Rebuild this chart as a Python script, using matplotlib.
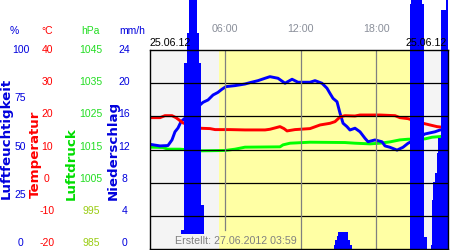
import matplotlib
matplotlib.use('Agg')
from matplotlib import pyplot as plt

W, H = 450, 250

# time in hours since 00:00 of the first day
hum_h = [0.0, 0.80, 1.43, 1.75, 1.99, 2.23, 2.47, 4.22, 4.62, 5.02, 5.41, 5.73, 6.05, 6.77,
         7.56, 7.96, 8.60, 9.16, 9.55, 10.19, 10.75, 11.31, 11.78, 12.74, 13.14, 13.69, 14.09,
         14.33, 14.57, 14.89, 15.13, 15.37, 15.68, 15.92, 16.32, 16.72, 17.12, 17.36, 17.91,
         18.47, 18.71, 19.11, 19.67, 20.14, 20.54, 21.89, 22.69, 23.09, 23.73]
hum_v = [52.6, 51.8, 52.0, 54.8, 58.9, 60.8, 64.0, 73.7, 74.9, 77.4, 78.7, 80.3, 81.6, 82.1,
         82.9, 83.6, 84.6, 85.8, 86.6, 85.8, 83.3, 85.3, 83.8, 83.8, 84.6, 83.3, 80.8,
         78.2, 75.7, 74.0, 68.2, 63.2, 61.5, 59.8, 60.7, 58.9, 55.6, 53.9, 54.8,
         53.9, 51.8, 51.1, 49.7, 51.1, 53.1, 57.8, 58.9, 59.8, 60.3]

temp_h = [0.0, 0.80, 1.19, 1.75, 2.07, 2.39, 2.63, 4.06, 4.78, 5.18, 6.37, 7.56, 9.16, 9.55,
          9.95, 10.35, 10.67, 10.91, 11.54, 12.74, 13.54, 14.33, 14.73, 15.13, 15.52, 16.32,
          16.72, 18.31, 19.51, 19.90, 20.54, 21.74, 22.29, 22.85, 23.73]
temp_v = [19.6, 19.6, 20.2, 20.2, 19.6, 18.7, 18.0, 16.4, 16.3, 16.0, 16.0, 15.9, 15.9, 16.1,
          16.5, 16.9, 16.3, 15.6, 16.0, 16.3, 17.4, 17.9, 18.4, 19.8, 20.2, 20.1,
          20.4, 20.4, 20.2, 19.6, 19.3, 17.9, 17.4, 16.9, 16.5]

pres_h = [0.0, 1.04, 1.43, 2.39, 4.06, 5.97, 6.77, 7.56, 10.35, 10.59, 11.15, 12.74, 15.52,
          16.32, 17.52, 18.31, 19.11, 19.90, 20.54, 21.89, 22.45, 23.09, 23.73]
pres_v = [1015.7, 1015.6, 1015.1, 1015.1, 1014.6, 1014.7, 1015.1, 1015.7, 1015.8, 1016.4,
          1016.9, 1017.2, 1017.1, 1016.9, 1016.7, 1016.9, 1017.3, 1017.9, 1018.1, 1018.2,
          1018.7, 1018.9, 1019.1]

rain_start = [2.49, 2.68, 2.71, 2.95, 3.11, 3.74, 3.90, 4.08,
              14.65, 14.73, 14.86, 14.99, 15.79, 15.92,
              20.70, 20.78, 21.66, 21.84,
              22.37, 22.48, 22.56, 22.69, 22.83, 22.95, 23.17, 23.57]
rain_end = [2.68, 2.71, 2.95, 3.11, 3.74, 3.90, 4.08, 4.26,
            14.73, 14.86, 14.99, 15.79, 15.92, 16.06,
            20.78, 21.66, 21.84, 22.03,
            22.48, 22.56, 22.69, 22.83, 22.95, 23.17, 23.57, 23.75]
rain_mm = [2.3, 5.3, 22.4, 26.0, 32.0, 26.0, 22.4, 5.3,
           0.5, 1.1, 1.6, 2.05, 1.1, 0.5,
           29.5, 32.0, 29.5, 1.4,
           0.5, 5.9, 8.1, 9.2, 11.6, 13.4, 28.8, 32.0]

hum_ticks = [100, 75, 50, 25, 0]
temp_ticks = [40, 30, 20, 10, 0, -10, -20]
pres_ticks = [1045, 1035, 1025, 1015, 1005, 995, 985]
rain_ticks = [24, 20, 16, 12, 8, 4, 0]
hour_ticks = [6, 12, 18]
hour_labels = ['06:00', '12:00', '18:00']
date_label = '25.06.12'
created = 'Erstellt: 27.06.2012 03:59'


def fx(px):
    return px / W


def fy(py):
    return 1 - py / H


plt.rcParams['font.family'] = ['Liberation Sans', 'DejaVu Sans']

fig = plt.figure(figsize=(4.5, 2.5), dpi=100)
ax = fig.add_axes([fx(150), fy(249), (448.3 - 150) / W, 199 / H])
ax.set_xlim(0, 23.75)
ax.set_ylim(-20, 40)
ax.set_facecolor('#f4f4f4')
ax.axvspan(5.5, 21.5, color='#ffffa4', lw=0, zorder=0)
ax.set_xticks([])
ax.set_yticks([])
for s in ax.spines.values():
    s.set_visible(False)

ax_p = ax.twinx()
ax_p.set_ylim(985, 1045)
ax_p.axis('off')
ax_p.plot(pres_h, pres_v, color='#00ff00', lw=2.1)

ax_h = ax.twinx()
ax_h.set_ylim(0, 100)
ax_h.axis('off')
ax_h.plot(hum_h, hum_v, color='#0000ff', lw=2.1)

ax_t = ax.twinx()
ax_t.set_ylim(-20, 40)
ax_t.axis('off')
ax_t.plot(temp_h, temp_v, color='#ff0000', lw=2.1)

ax_r = ax.twinx()
ax_r.set_ylim(0, 24)
ax_r.set_xlim(0, 23.75)
widths = [e - s for s, e in zip(rain_start, rain_end)]
ax_r.bar(rain_start, rain_mm, width=widths, align='edge', color='#0000ff',
         lw=0, clip_on=False, zorder=1)
# background under the "Erstellt" note hides bars and grid
ax_r.axvspan(2.0, 5.5, ymin=0, ymax=0.075, color='#f4f4f4', lw=0, zorder=1.5)
ax_r.axvspan(5.5, 11.8, ymin=0, ymax=0.075, color='#ffffa4', lw=0, zorder=1.5)
for v in rain_ticks[1:-1]:
    ax_r.axhline(v, color='black', lw=0.9, zorder=2)
for h in hour_ticks:
    ax_r.axvline(h, ymin=0.095 if h == 6 else 0, color='#808080', lw=0.9, zorder=2)
ax_r.set_xticks([])
ax_r.set_yticks([])
for s in ax_r.spines.values():
    s.set_color('black')
    s.set_linewidth(1.0)

# unit headers
fig.text(fx(14), fy(31), '%', color='#0000dd', fontsize=7.5, ha='center', va='center')
fig.text(fx(47), fy(31), '°C', color='#ff0000', fontsize=7.5, ha='center', va='center')
fig.text(fx(90), fy(31), 'hPa', color='#22dd22', fontsize=7.5, ha='center', va='center')
fig.text(fx(132.5), fy(31), 'mm/h', color='#0000dd', fontsize=7.5, ha='center', va='center')

# tick labels
for i, v in enumerate(hum_ticks):
    fig.text(fx(20.5), fy(50 + i * 48.3), str(v), color='#0000dd', fontsize=7.5,
             ha='center', va='center')
for i, v in enumerate(temp_ticks):
    fig.text(fx(47), fy(50 + i * 32.2), str(v), color='#ff0000', fontsize=7.5,
             ha='center', va='center')
for i, v in enumerate(pres_ticks):
    col = '#99cc11' if v < 1000 else '#22dd22'
    fig.text(fx(91), fy(50 + i * 32.2), str(v), color=col, fontsize=7.5,
             ha='center', va='center')
for i, v in enumerate(rain_ticks):
    fig.text(fx(124.5), fy(50 + i * 32.2), str(v), color='#0000dd', fontsize=7.5,
             ha='center', va='center')

# axis titles
fig.text(fx(6), fy(199), 'Luftfeuchtigkeit', color='#0000dd', fontsize=9.6, rotation=90,
         ha='center', va='bottom', family='DejaVu Sans', weight='bold')
fig.text(fx(35), fy(198), 'Temperatur', color='#ff0000', fontsize=9.6, rotation=90,
         ha='center', va='bottom', family='DejaVu Sans', weight='bold')
fig.text(fx(71.5), fy(200), 'Luftdruck', color='#00dd00', fontsize=9.6, rotation=90,
         ha='center', va='bottom', family='DejaVu Sans', weight='bold')
fig.text(fx(113.5), fy(200), 'Niederschlag', color='#0000dd', fontsize=9.6, rotation=90,
         ha='center', va='bottom', family='DejaVu Sans', weight='bold')

# hour labels on top
for h, lab in zip(hour_ticks, hour_labels):
    fig.text(fx(150 + h * 12.56), fy(29.5), lab, color='#8a8f9a', fontsize=7.7,
             ha='center', va='center')
fig.text(fx(150), fy(43), date_label, color='black', fontsize=7.7, ha='left', va='center')
fig.text(fx(447), fy(43), date_label, color='black', fontsize=7.7, ha='right', va='center')
fig.text(fx(175), fy(241), created, color='#808080', fontsize=7.7, ha='left', va='center')

fig.savefig('out.png', dpi=100)
